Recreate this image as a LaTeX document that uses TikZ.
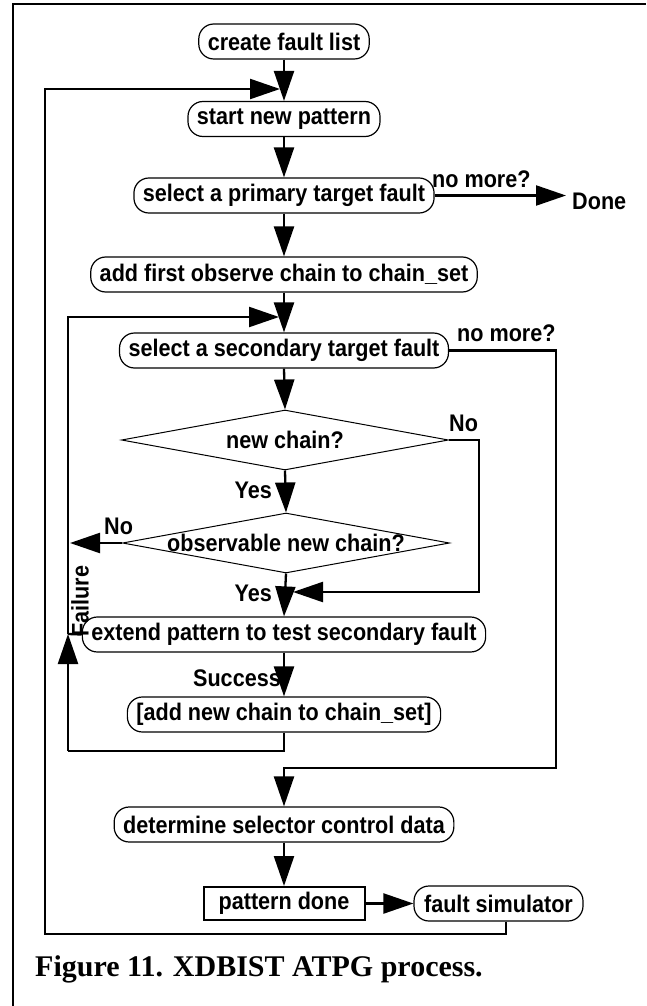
\documentclass[tikz,border=0pt]{standalone}
\usepackage{fontspec}
\usetikzlibrary{arrows.meta,shapes.geometric}
\newfontfamily\figsans{Liberation Sans}[FakeStretch=0.9]
\newfontfamily\capserif{Liberation Serif}

\begin{document}
\begin{tikzpicture}[x=1pt,y=-1pt,
  every node/.style={font=\figsans\bfseries\fontsize{24}{28}\selectfont},
  proc/.style={draw, line width=1.2pt, rounded corners=15pt, minimum height=35pt,
               inner xsep=9pt, inner ysep=0pt},
  plainbox/.style={draw, line width=2pt, minimum height=33pt, minimum width=161pt, inner sep=0pt},
  decision/.style={draw, diamond, line width=1pt, inner sep=0pt,
                   minimum width=327pt, minimum height=60pt},
  conn/.style={line width=2.3pt},
  arr/.style={conn, -{Triangle[length=30pt,width=20pt]}},
  lbl/.style={inner sep=0pt}]

\useasboundingbox (0,0) rectangle (646,1006);

% outer frame (top and left edges)
\draw[line width=2.5pt] (13,1006) -- (13,4) -- (646,4);

% process steps
\node[proc] (cfl) at (284,41.5)  {create fault list};
\node[proc] (snp) at (284,119)   {start new pattern};
\node[proc] (spf) at (284,195.5) {select a primary target fault};
\node[proc] (afo) at (284,274.5) {add first observe chain to chain\_set};
\node[proc] (sst) at (284,350.5) {select a secondary target fault};
\node[decision] (d1) at (285,440) {};
\node[lbl] (d1t) at (d1.center) {new chain?};
\node[decision] (d2) at (286,543) {};
\node[lbl] (d2t) at (d2.center) {observable new chain?};
\node[proc] (ext) at (284,634.5) {extend pattern to test secondary fault};
\node[proc] (anc) at (284,714.5) {[add new chain to chain\_set]};
\node[proc] (dsc) at (284,824.5) {determine selector control data};
\node[plainbox] (pd) at (284,903.5) {pattern done};
\node[proc, minimum width=169pt] (fs) at (498.5,903.5) {fault simulator};

% branch labels
\node[lbl, anchor=base west] (nm1) at (432,187) {no more?};
\node[lbl, anchor=west] (done) at (572,201) {Done};
\node[lbl, anchor=base west] (nm2) at (457,341) {no more?};
\node[lbl, anchor=base west] (no1) at (449,431) {No};
\node[lbl, anchor=base east] (yes1) at (272,498) {Yes};
\node[lbl, anchor=base west] (no2) at (104,534) {No};
\node[lbl, anchor=base east] (yes2) at (272,601) {Yes};
\node[lbl, anchor=base east] (succ) at (281,686) {Success};
\node[lbl, rotate=90] (fail) at (80,601) {Failure};

% caption
\node[lbl, anchor=base west, font=\capserif\bfseries\fontsize{30}{34}\selectfont]
  (cap) at (35,976) {Figure 11. XDBIST ATPG process.};

% routing points
\coordinate (olb) at (44.7,934);
\coordinate (olt) at (44.7,89);
\coordinate (j1)  at (280,89);
\coordinate (ilb) at (68,751);
\coordinate (ilf) at (68,634);
\coordinate (ilt) at (68,317);
\coordinate (j4)  at (279,317);
\coordinate (nr)  at (479,592);
\coordinate (j2)  at (293,592);
\coordinate (j3)  at (70,543);
\coordinate (sr)  at (556,768);

% main column
\draw[arr] (cfl.south) -- (snp.north);
\draw[arr] (snp.south) -- (spf.north);
\draw[arr] (spf.south) -- (afo.north);
\draw[arr] (afo.south) -- (sst.north);
\draw[arr] (sst.south) -- (d1.north);
\draw[arr] (d1.south) -- (d2.north);
\draw[arr] (d2.south) -- (ext.north);
\draw[arr] (ext.south) -- (anc.north);
\draw[arr] (dsc.south) -- (pd.north);
\draw[arr] (pd.east) -- (fs.west);

% exits and side branches
\draw[arr, shorten >=6pt] (spf.east) -- (spf.east -| done.west);
\draw[arr] (d1.east) -| (nr) -- (j2);
\draw[arr] (d2.west) -- (j3);
\draw[arr] (sst.east) -| (sr) -| (dsc.north);

% inner loop back to the secondary fault selection
\draw[conn] (anc.south) |- (ilb);
\draw[arr] (ilb) -- (ilf);
\draw[arr] (ilf) -- (ilt) -- (j4);
\draw[conn] (ext.west) -- (ilf);

% outer loop back to a new pattern
\draw[arr] ([xshift=7.5pt]fs.south) |- (olb) -- (olt) -- (j1);

\end{tikzpicture}
\end{document}
